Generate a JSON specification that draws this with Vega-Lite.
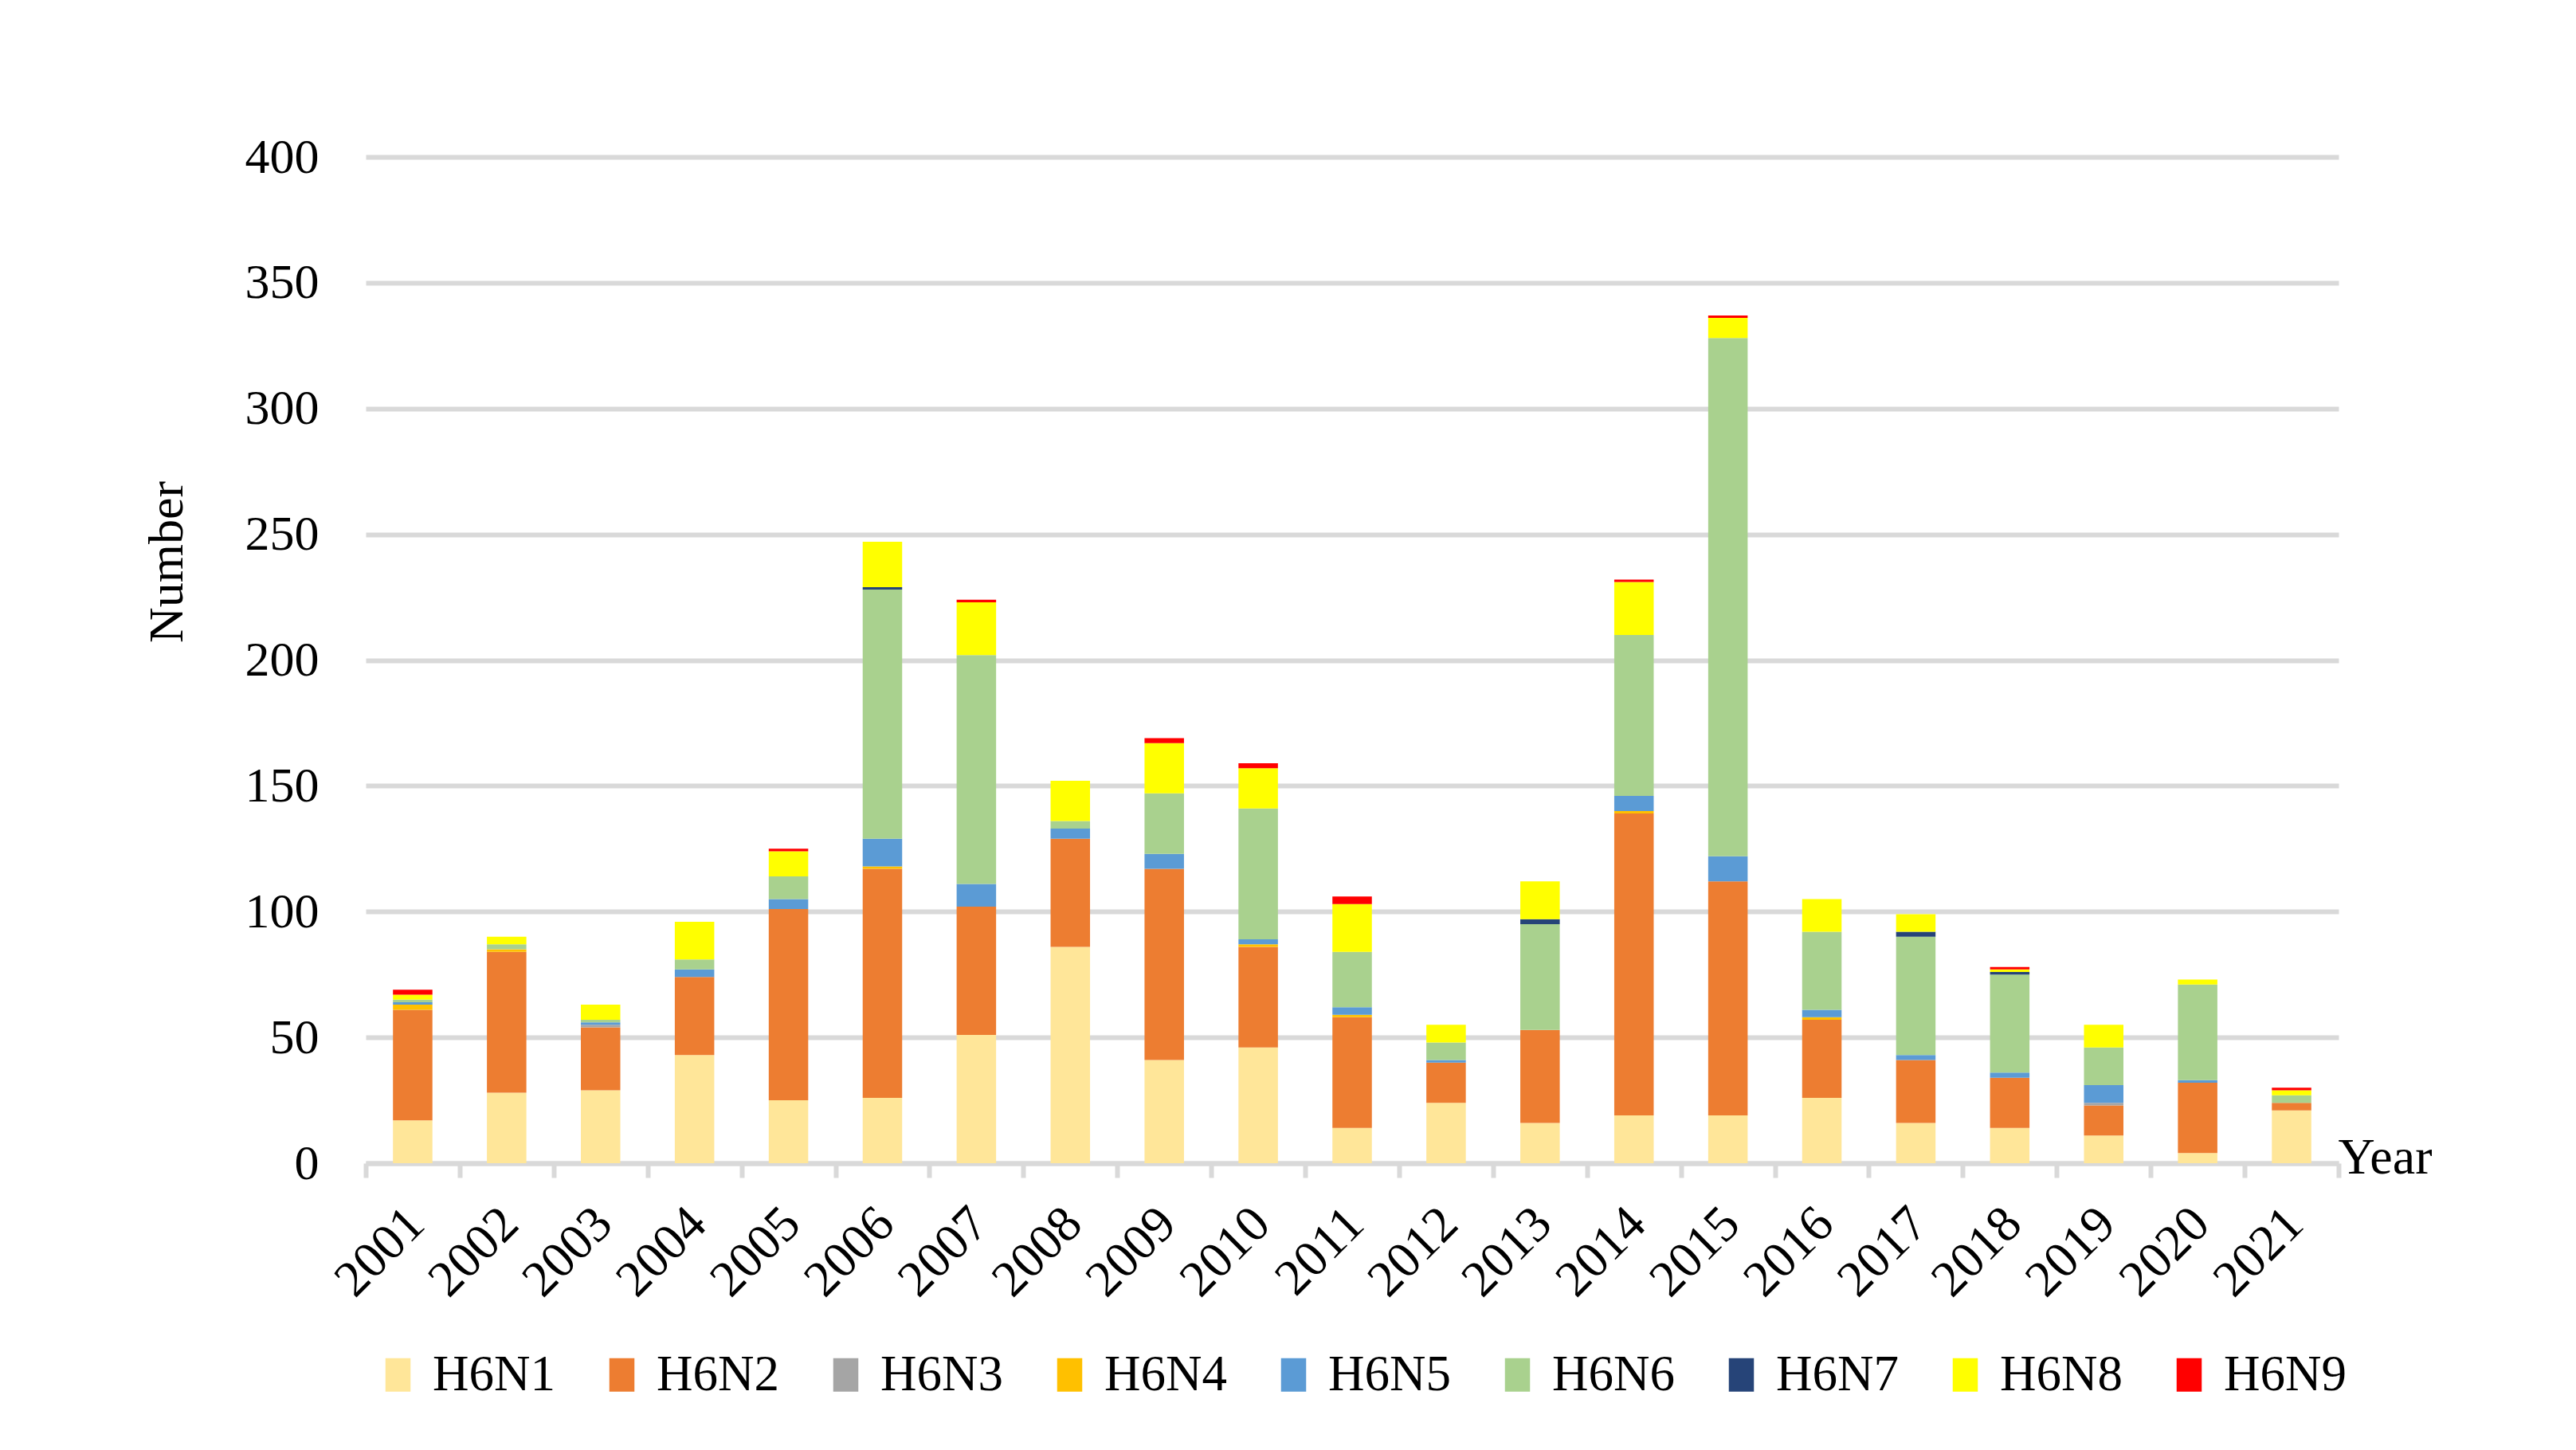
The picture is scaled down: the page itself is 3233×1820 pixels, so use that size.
{
  "$schema": "https://vega.github.io/schema/vega-lite/v6.json",
  "autosize": {"type": "none"},
  "width": 2476,
  "height": 1263,
  "padding": {"left": 459, "top": 197, "right": 298, "bottom": 360},
  "background": "white",
  "config": {
    "font": "Liberation Serif",
    "view": {"stroke": null}
  },
  "data": {
    "values": [
      {"year": "2001", "subtype": "H6N1", "n": 17}, {"year": "2001", "subtype": "H6N2", "n": 44}, {"year": "2001", "subtype": "H6N4", "n": 2}, {"year": "2001", "subtype": "H6N5", "n": 1}, {"year": "2001", "subtype": "H6N6", "n": 1}, {"year": "2001", "subtype": "H6N8", "n": 2}, {"year": "2001", "subtype": "H6N9", "n": 2},
      {"year": "2002", "subtype": "H6N1", "n": 28}, {"year": "2002", "subtype": "H6N2", "n": 56}, {"year": "2002", "subtype": "H6N4", "n": 1}, {"year": "2002", "subtype": "H6N6", "n": 2}, {"year": "2002", "subtype": "H6N8", "n": 3},
      {"year": "2003", "subtype": "H6N1", "n": 29}, {"year": "2003", "subtype": "H6N2", "n": 25}, {"year": "2003", "subtype": "H6N3", "n": 1}, {"year": "2003", "subtype": "H6N5", "n": 1}, {"year": "2003", "subtype": "H6N6", "n": 1}, {"year": "2003", "subtype": "H6N8", "n": 6},
      {"year": "2004", "subtype": "H6N1", "n": 43}, {"year": "2004", "subtype": "H6N2", "n": 31}, {"year": "2004", "subtype": "H6N5", "n": 3}, {"year": "2004", "subtype": "H6N6", "n": 4}, {"year": "2004", "subtype": "H6N8", "n": 15},
      {"year": "2005", "subtype": "H6N1", "n": 25}, {"year": "2005", "subtype": "H6N2", "n": 76}, {"year": "2005", "subtype": "H6N5", "n": 4}, {"year": "2005", "subtype": "H6N6", "n": 9}, {"year": "2005", "subtype": "H6N8", "n": 10}, {"year": "2005", "subtype": "H6N9", "n": 1},
      {"year": "2006", "subtype": "H6N1", "n": 26}, {"year": "2006", "subtype": "H6N2", "n": 91}, {"year": "2006", "subtype": "H6N4", "n": 1}, {"year": "2006", "subtype": "H6N5", "n": 11}, {"year": "2006", "subtype": "H6N6", "n": 99}, {"year": "2006", "subtype": "H6N7", "n": 1}, {"year": "2006", "subtype": "H6N8", "n": 18},
      {"year": "2007", "subtype": "H6N1", "n": 51}, {"year": "2007", "subtype": "H6N2", "n": 51}, {"year": "2007", "subtype": "H6N5", "n": 9}, {"year": "2007", "subtype": "H6N6", "n": 91}, {"year": "2007", "subtype": "H6N8", "n": 21}, {"year": "2007", "subtype": "H6N9", "n": 1},
      {"year": "2008", "subtype": "H6N1", "n": 86}, {"year": "2008", "subtype": "H6N2", "n": 43}, {"year": "2008", "subtype": "H6N5", "n": 4}, {"year": "2008", "subtype": "H6N6", "n": 3}, {"year": "2008", "subtype": "H6N8", "n": 16},
      {"year": "2009", "subtype": "H6N1", "n": 41}, {"year": "2009", "subtype": "H6N2", "n": 76}, {"year": "2009", "subtype": "H6N5", "n": 6}, {"year": "2009", "subtype": "H6N6", "n": 24}, {"year": "2009", "subtype": "H6N8", "n": 20}, {"year": "2009", "subtype": "H6N9", "n": 2},
      {"year": "2010", "subtype": "H6N1", "n": 46}, {"year": "2010", "subtype": "H6N2", "n": 40}, {"year": "2010", "subtype": "H6N4", "n": 1}, {"year": "2010", "subtype": "H6N5", "n": 2}, {"year": "2010", "subtype": "H6N6", "n": 52}, {"year": "2010", "subtype": "H6N8", "n": 16}, {"year": "2010", "subtype": "H6N9", "n": 2},
      {"year": "2011", "subtype": "H6N1", "n": 14}, {"year": "2011", "subtype": "H6N2", "n": 44}, {"year": "2011", "subtype": "H6N4", "n": 1}, {"year": "2011", "subtype": "H6N5", "n": 3}, {"year": "2011", "subtype": "H6N6", "n": 22}, {"year": "2011", "subtype": "H6N8", "n": 19}, {"year": "2011", "subtype": "H6N9", "n": 3},
      {"year": "2012", "subtype": "H6N1", "n": 24}, {"year": "2012", "subtype": "H6N2", "n": 16}, {"year": "2012", "subtype": "H6N5", "n": 1}, {"year": "2012", "subtype": "H6N6", "n": 7}, {"year": "2012", "subtype": "H6N8", "n": 7},
      {"year": "2013", "subtype": "H6N1", "n": 16}, {"year": "2013", "subtype": "H6N2", "n": 37}, {"year": "2013", "subtype": "H6N6", "n": 42}, {"year": "2013", "subtype": "H6N7", "n": 2}, {"year": "2013", "subtype": "H6N8", "n": 15},
      {"year": "2014", "subtype": "H6N1", "n": 19}, {"year": "2014", "subtype": "H6N2", "n": 120}, {"year": "2014", "subtype": "H6N4", "n": 1}, {"year": "2014", "subtype": "H6N5", "n": 6}, {"year": "2014", "subtype": "H6N6", "n": 64}, {"year": "2014", "subtype": "H6N8", "n": 21}, {"year": "2014", "subtype": "H6N9", "n": 1},
      {"year": "2015", "subtype": "H6N1", "n": 19}, {"year": "2015", "subtype": "H6N2", "n": 93}, {"year": "2015", "subtype": "H6N5", "n": 10}, {"year": "2015", "subtype": "H6N6", "n": 206}, {"year": "2015", "subtype": "H6N8", "n": 8}, {"year": "2015", "subtype": "H6N9", "n": 1},
      {"year": "2016", "subtype": "H6N1", "n": 26}, {"year": "2016", "subtype": "H6N2", "n": 31}, {"year": "2016", "subtype": "H6N4", "n": 1}, {"year": "2016", "subtype": "H6N5", "n": 3}, {"year": "2016", "subtype": "H6N6", "n": 31}, {"year": "2016", "subtype": "H6N8", "n": 13},
      {"year": "2017", "subtype": "H6N1", "n": 16}, {"year": "2017", "subtype": "H6N2", "n": 25}, {"year": "2017", "subtype": "H6N5", "n": 2}, {"year": "2017", "subtype": "H6N6", "n": 47}, {"year": "2017", "subtype": "H6N7", "n": 2}, {"year": "2017", "subtype": "H6N8", "n": 7},
      {"year": "2018", "subtype": "H6N1", "n": 14}, {"year": "2018", "subtype": "H6N2", "n": 20}, {"year": "2018", "subtype": "H6N5", "n": 2}, {"year": "2018", "subtype": "H6N6", "n": 39}, {"year": "2018", "subtype": "H6N7", "n": 1}, {"year": "2018", "subtype": "H6N8", "n": 1}, {"year": "2018", "subtype": "H6N9", "n": 1},
      {"year": "2019", "subtype": "H6N1", "n": 11}, {"year": "2019", "subtype": "H6N2", "n": 12}, {"year": "2019", "subtype": "H6N3", "n": 1}, {"year": "2019", "subtype": "H6N5", "n": 7}, {"year": "2019", "subtype": "H6N6", "n": 15}, {"year": "2019", "subtype": "H6N8", "n": 9},
      {"year": "2020", "subtype": "H6N1", "n": 4}, {"year": "2020", "subtype": "H6N2", "n": 28}, {"year": "2020", "subtype": "H6N5", "n": 1}, {"year": "2020", "subtype": "H6N6", "n": 38}, {"year": "2020", "subtype": "H6N8", "n": 2},
      {"year": "2021", "subtype": "H6N1", "n": 21}, {"year": "2021", "subtype": "H6N2", "n": 3}, {"year": "2021", "subtype": "H6N6", "n": 3}, {"year": "2021", "subtype": "H6N8", "n": 2}, {"year": "2021", "subtype": "H6N9", "n": 1}
    ]
  },
  "mark": {"type": "bar", "width": {"band": 0.42}},
  "encoding": {
    "x": {
      "field": "year",
      "type": "ordinal",
      "scale": {"paddingInner": 0, "paddingOuter": 0},
      "axis": {
        "title": "Year",
        "titleFontSize": 64,
        "titleFontWeight": "normal",
        "titleColor": "black",
        "titleX": 2475,
        "titleY": 12,
        "titleAlign": "left",
        "titleAnchor": null,
        "titleBaseline": "alphabetic",
        "labelAngle": -45,
        "labelAlign": "right",
        "labelBaseline": "middle",
        "labelFontSize": 64,
        "labelColor": "black",
        "labelPadding": 48,
        "labelOffset": 4,
        "tickBand": "extent",
        "tickColor": "#d9d9d9",
        "tickWidth": 6,
        "tickSize": 18,
        "domainColor": "#d9d9d9",
        "domainWidth": 6,
        "grid": false
      }
    },
    "y": {
      "field": "n",
      "type": "quantitative",
      "aggregate": "sum",
      "stack": "zero",
      "scale": {"domain": [0, 400], "nice": false},
      "axis": {
        "title": "Number",
        "titleFontSize": 62,
        "titleFontWeight": "normal",
        "titleColor": "black",
        "titleAngle": -90,
        "titleAlign": "center",
        "titleBaseline": "middle",
        "titleX": -250,
        "titleY": 508,
        "titleAnchor": null,
        "values": [0, 50, 100, 150, 200, 250, 300, 350, 400],
        "labelFontSize": 62,
        "labelColor": "black",
        "labelPadding": 59,
        "ticks": false,
        "domain": false,
        "grid": true,
        "gridColor": "#d9d9d9",
        "gridWidth": 6
      }
    },
    "color": {
      "field": "subtype",
      "type": "nominal",
      "scale": {
        "domain": ["H6N1", "H6N2", "H6N3", "H6N4", "H6N5", "H6N6", "H6N7", "H6N8", "H6N9"],
        "range": ["#FFE699", "#ED7D31", "#A5A5A5", "#FFC000", "#5B9BD5", "#A9D18E", "#264478", "#FFFF00", "#FF0000"]
      },
      "legend": {
        "title": null,
        "orient": "none",
        "direction": "horizontal",
        "legendX": 9,
        "legendY": 1497,
        "symbolType": "M-0.75,-1H0.75V1H-0.75Z",
        "symbolSize": 1764,
        "symbolStrokeWidth": 0,
        "labelFontSize": 63,
        "labelColor": "black",
        "labelOffset": 12,
        "columnPadding": 52
      }
    },
    "order": {"field": "subtype", "sort": "ascending"}
  }
}
